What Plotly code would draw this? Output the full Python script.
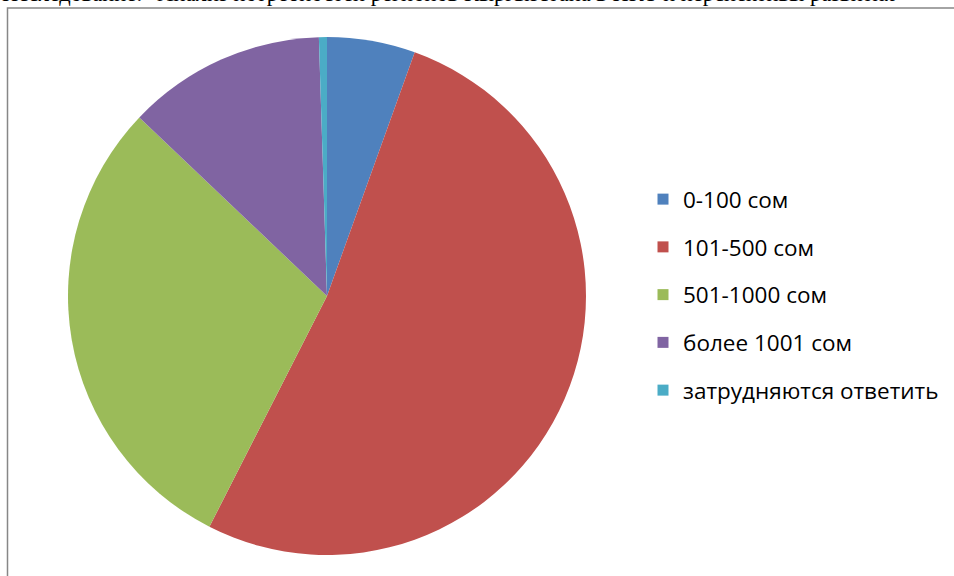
import plotly.graph_objects as go

labels = ["0-100 сом", "101-500 сом", "501-1000 сом", "более 1001 сом", "затрудняются ответить"]
values = [5.5, 52.0, 29.6, 12.4, 0.5]
colors = ["#4F81BD", "#C0504D", "#9BBB59", "#8064A2", "#4BACC6"]
header_text = "Исследование: \"Анализ потребностей регионов Кыргызстана в ИКТ и перспективы развития\""

W, H = 954, 576

fig = go.Figure()
fig.add_trace(go.Pie(
    labels=labels,
    values=values,
    marker=dict(colors=colors, line=dict(width=0)),
    sort=False,
    direction="clockwise",
    rotation=0,
    textinfo="none",
    hoverinfo="label+percent",
    showlegend=False,
    domain=dict(x=[68 / W, 586 / W], y=[1 - 555 / H, 1 - 37 / H]),
))

# legend entries, one per category (legend groups give the vertical gap)
for lab, col in zip(labels, colors):
    fig.add_trace(go.Scatter(
        x=[None], y=[None], mode="markers", name=lab,
        legendgroup=lab, showlegend=True, hoverinfo="skip",
        marker=dict(symbol="square", size=11, color=col, line=dict(width=0)),
    ))

fig.update_layout(
    width=W, height=H,
    margin=dict(l=0, r=0, t=0, b=0),
    paper_bgcolor="white",
    plot_bgcolor="white",
    xaxis=dict(visible=False),
    yaxis=dict(visible=False),
    showlegend=True,
    legend=dict(
        x=643 / W, xanchor="left",
        y=1 - 178 / H, yanchor="top",
        font=dict(family="Open Sans", size=22.5, color="#000000"),
        traceorder="grouped",
        tracegroupgap=15.5,
        bgcolor="rgba(0,0,0,0)",
        itemclick=False, itemdoubleclick=False,
    ),
    shapes=[dict(
        type="rect", xref="paper", yref="paper",
        x0=7.5 / W, x1=1.02, y0=-0.02, y1=1 - 8 / H,
        line=dict(color="#878787", width=1.5),
        fillcolor="rgba(0,0,0,0)", layer="below",
    )],
    annotations=[dict(
        text=header_text, xref="paper", yref="paper",
        x=0, xanchor="left", y=1, yanchor="bottom", yshift=-8.5,
        showarrow=False, align="left",
        font=dict(family="Liberation Serif", size=22.5, color="#000000"),
    )],
)

fig.write_html(
    "out.html",
    config={"displayModeBar": False},
    post_script="document.body.style.margin='0px'; document.body.style.overflow='hidden';",
)
